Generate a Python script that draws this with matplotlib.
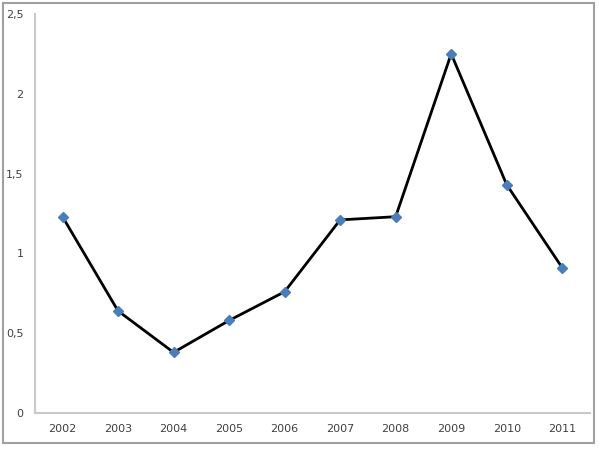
import matplotlib.pyplot as plt
from matplotlib.patches import Rectangle
from matplotlib.ticker import FuncFormatter

years = ['2002', '2003', '2004', '2005', '2006', '2007', '2008', '2009', '2010', '2011']
values = [1.23, 0.64, 0.38, 0.58, 0.76, 1.21, 1.23, 2.25, 1.43, 0.91]
y_ticks = [0, 0.5, 1, 1.5, 2, 2.5]

fig = plt.figure(figsize=(5.99, 4.49), dpi=100)
ax = fig.add_axes([0.058, 0.080, 0.927, 0.889])

x = list(range(len(years)))
ax.plot(x, values, color='black', linewidth=2, marker='D', markersize=5,
        markerfacecolor='#4a7ebb', markeredgecolor='#4a7ebb', zorder=3)

ax.set_xlim(-0.5, len(years) - 0.5)
ax.set_ylim(0, 2.5)
ax.set_xticks(x)
ax.set_xticklabels(years)
ax.set_yticks(y_ticks)
ax.yaxis.set_major_formatter(FuncFormatter(lambda v, p: ('%g' % v).replace('.', ',')))
ax.tick_params(length=0, labelsize=8, colors='#404040', pad=8)

for side in ['top', 'right']:
    ax.spines[side].set_visible(False)
for side in ['left', 'bottom']:
    ax.spines[side].set_color('#c8c8c8')
    ax.spines[side].set_linewidth(1.5)

# outer chart border
fig.patches.append(Rectangle((3 / 599, 6 / 449), 591 / 599, 440 / 449,
                             transform=fig.transFigure, fill=False,
                             edgecolor='#a0a0a0', linewidth=1.5))

fig.savefig('out.png', dpi=100)
